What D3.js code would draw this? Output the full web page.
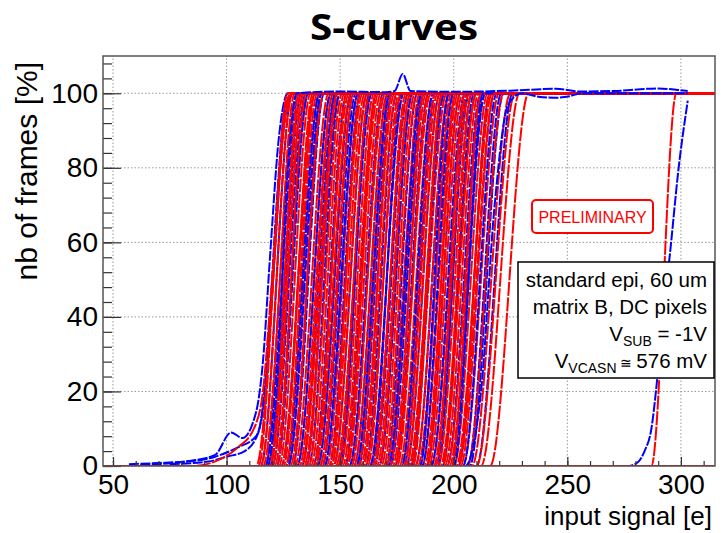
<!DOCTYPE html>
<html>
<head>
<meta charset="utf-8">
<script src="https://cdn.jsdelivr.net/npm/d3@7"></script>
<style>
  body { margin: 0; background: #fff; }
  svg { display: block; }
</style>
</head>
<body>
<div id="chart"></div>
<script>

// tick labels
const xTicks = [50, 100, 150, 200, 250, 300];
const yTicks = [0, 20, 40, 60, 80, 100];

// S-curves: [x where the curve leaves 0 %, x where it reaches 100 %]
const redCurves = [
  [113,128],[114,127],[116,131],[117,130],[118,133],[120,134],[121,136],[123,137],[124,139],[126,140],
  [127,141],[128,143],[130,145],[131,146],[133,147],[134,150],[135,149],[137,152],[138,154],[140,155],
  [141,156],[143,158],[144,158],[146,161],[147,162],[148,164],[150,165],[151,166],[153,168],[154,170],
  [156,171],[157,172],[159,174],[160,175],[161,177],[163,178],[164,180],[166,181],[167,182],[169,184],
  [170,186],[171,187],[173,188],[174,190],[176,191],[177,192],[179,194],[180,196],[181,197],[183,198],
  [184,200],[186,201],[187,202],[189,204],[190,206],[191,207],[193,208],[194,210],[196,211],[197,213],
  [198,214],[200,215],[201,217],[203,218],[204,220],[208,225],[212,229],[216,233],
  [115,129],[119,132],[122,135],[125,138],[129,142],[132,147],[136,151],[139,153],[142,156],[145,160],
  [149,163],[152,167],[155,169],[158,172],[162,176],[165,179],[168,183],[172,185],[175,189],[178,193],
  [182,195],[185,199],[188,203],[192,205],[195,208],[199,212],[202,216],[206,222],[119,134],[126,139],
  [133,149],[139,155],[146,159],[153,166],[160,173],[167,181],[174,187],[181,195],[188,201],[195,210],
  [202,218],[210,227],[287,298]
];
const blueCurves = [
  [115,129],[117,132],[119,133],[122,136],[124,139],[126,141],[129,143],[131,146],[133,148],[136,150],
  [138,153],[140,155],[142,157],[145,159],[147,162],[149,164],[152,166],[154,169],[156,171],[158,173],
  [161,175],[163,178],[165,180],[167,182],[170,184],[172,187],[174,189],[177,191],[179,194],[181,196],
  [183,198],[186,200],[188,203],[190,205],[192,207],[195,209],[197,212],[199,214],[202,216],[204,219],
  [207,222],[210,226],[120,135],[127,142],[135,148],[143,158],[150,163],[157,172],[164,177],[171,186],
  [178,192],[185,198],[193,206],[200,213],[206,221]
];

// a few curves with visible structure, as [input signal, %] points
const blueTailA = [[57,0.5],[70,0.8],[85,1.5],[95,3],[102,9],[107,7.5],[113,14.5],[116,28],[119,55],[123,88],[127,100],[303,100]];
const blueTailB = [[62,0.3],[80,1],[95,2.5],[105,5],[113,8],[117,20],[121,55],[125,90],[129,100],[303,100]];
const blueTailC = [[75,0.5],[92,1.2],[100,2.5],[108,4],[114,9],[118,30],[122,70],[126,97],[130,100],[303,100]];
const redTail = [[46,0],[85,0],[96,1.5],[105,5],[112,10],[116,20],[120,50],[125,90],[129,100],[315,100]];
const bluePlateau = [[57,0],[118,0],[122,20],[127,80],[131,100],[150,100.5],[170,100.3],[174,100.6],[177.5,105.2],
  [181,100.6],[200,100.4],[225,100.7],[245,101.2],[255,100.5],[270,100.6],[290,101.3],[300,100.8],[303,100.6]];
const blueDip = [[57,0],[205,0],[212,20],[218,70],[224,97],[230,100],[238,99],[245,98.8],[251,99.2],[256,100],[303,100]];
const blueFar = [[57,0],[277,0],[281,1],[284,4],[287,10],[289,20],[292,40],[295,56],[299,80],[303,98]];

const blueRange = [57, 303];
const redRange = [46, 315];
const blue = "#0000ff", red = "#ff0000";

const svg = d3.select("#chart")
  .append("svg")
  .attr("width", 725)
  .attr("height", 533);

const x = d3.scaleLinear().domain([45.6, 315]).range([103, 715]);
const y = d3.scaleLinear().domain([0, 110]).range([466, 56]);

// title
svg.append("text")
  .attr("x", 394)
  .attr("y", 40)
  .attr("text-anchor", "middle")
  .attr("textLength", 168)
  .attr("lengthAdjust", "spacingAndGlyphs")
  .style("font", "bold 36px 'Open Sans', sans-serif")
  .text("S-curves");

// grid
const grid = svg.append("g")
  .attr("stroke", "#999")
  .attr("stroke-width", 1)
  .attr("stroke-dasharray", "1.5,2");
grid.selectAll(".gx").data(xTicks).enter().append("line")
  .attr("x1", d => x(d)).attr("x2", d => x(d))
  .attr("y1", y(0)).attr("y2", y(110));
grid.selectAll(".gy").data(yTicks).enter().append("line")
  .attr("x1", x(45.6)).attr("x2", x(315))
  .attr("y1", d => y(d)).attr("y2", d => y(d));

svg.append("clipPath").attr("id", "frame")
  .append("rect")
  .attr("x", 103).attr("y", 56)
  .attr("width", 612).attr("height", 410);

const plot = svg.append("g").attr("clip-path", "url(#frame)");

const line = d3.line()
  .x(d => x(d[0]))
  .y(d => y(d[1]))
  .curve(d3.curveMonotoneX);

function sCurve(c, range) {
  return [[range[0], 0], [c[0], 0], [c[1], 100], [range[1], 100]];
}

// half of the blue pixels lie under the red ones, the rest are mixed in between
var curves = [];
[blueTailA, blueTailB, blueTailC].forEach(p => curves.push({color: blue, pts: p}));
blueCurves.forEach(function(c, i) {
  if (i % 2 == 0) curves.push({color: blue, pts: sCurve(c, blueRange)});
});
curves.push({color: red, pts: redTail});
var bi = 1;
redCurves.forEach(function(c, i) {
  curves.push({color: red, pts: sCurve(c, redRange)});
  if (i % 4 == 3 && blueCurves[bi]) {
    curves.push({color: blue, pts: sCurve(blueCurves[bi], blueRange)});
    bi += 2;
  }
});
[bluePlateau, blueDip, blueFar].forEach(p => curves.push({color: blue, pts: p}));

plot.selectAll(".curve").data(curves).enter().append("path")
  .attr("fill", "none")
  .attr("stroke", d => d.color)
  .attr("stroke-width", 2)
  .attr("stroke-dasharray", d => d.color == red ? "14,1.5" : "10,1.5")
  .attr("d", d => line(d.pts));

// bottom red line sits on the frame
plot.append("path")
  .attr("fill", "none")
  .attr("stroke", red)
  .attr("stroke-width", 2)
  .attr("d", line([[redRange[0], 0], [redRange[1], 0]]));

// axes
svg.append("g")
  .attr("transform", "translate(0,466)")
  .call(d3.axisBottom(x).tickValues(xTicks).tickSize(-9).tickPadding(8));
svg.append("g")
  .attr("transform", "translate(0,466)")
  .call(d3.axisBottom(x).tickValues(d3.range(50, 316, 10)).tickSize(-5).tickFormat(""));

svg.append("g")
  .attr("transform", "translate(103,0)")
  .call(d3.axisLeft(y).tickValues(yTicks).tickSize(-18).tickPadding(5));
svg.append("g")
  .attr("transform", "translate(103,0)")
  .call(d3.axisLeft(y).tickValues(d3.range(0, 109, 4)).tickSize(-9).tickFormat(""));

svg.selectAll(".domain").remove();
svg.selectAll(".tick line").attr("stroke", "#333").attr("stroke-width", 1.2);
svg.selectAll(".tick text")
  .attr("fill", "#000")
  .style("font", "28px 'Liberation Sans', Arial, sans-serif");

// frame
svg.append("rect")
  .attr("x", 103).attr("y", 56)
  .attr("width", 612).attr("height", 410)
  .attr("fill", "none")
  .attr("stroke", "#555")
  .attr("stroke-width", 1.5);

// axis titles
svg.append("text")
  .attr("transform", "translate(37,62) rotate(-90)")
  .attr("text-anchor", "end")
  .style("font", "30px 'Liberation Sans', Arial, sans-serif")
  .text("nb of frames [%]");

svg.append("text")
  .attr("x", 712)
  .attr("y", 525)
  .attr("text-anchor", "end")
  .style("font", "26px 'Liberation Sans', Arial, sans-serif")
  .text("input signal [e]");

// PRELIMINARY stamp
svg.append("rect")
  .attr("x", 532).attr("y", 200)
  .attr("width", 121).attr("height", 33)
  .attr("rx", 4)
  .attr("fill", "#fff")
  .attr("stroke", red)
  .attr("stroke-width", 2);
svg.append("text")
  .attr("x", 592.5).attr("y", 222.5)
  .attr("text-anchor", "middle")
  .attr("fill", red)
  .style("font", "16px 'Liberation Sans', Arial, sans-serif")
  .text("PRELIMINARY");

// info box
svg.append("rect")
  .attr("x", 518).attr("y", 262)
  .attr("width", 196).attr("height", 116)
  .attr("fill", "#fff")
  .attr("stroke", "#000")
  .attr("stroke-width", 1.5);

const info = svg.append("g")
  .attr("text-anchor", "end")
  .style("font", "20.5px 'Liberation Sans', Arial, sans-serif");
info.append("text").attr("x", 707).attr("y", 287).text("standard epi, 60 um");
info.append("text").attr("x", 707).attr("y", 314).text("matrix B, DC pixels");
var l3 = info.append("text").attr("x", 707).attr("y", 341);
l3.append("tspan").text("V");
l3.append("tspan").attr("dy", 5).style("font-size", "14px").text("SUB");
l3.append("tspan").attr("dy", -5).text(" = -1V");
var l4 = info.append("text").attr("x", 707).attr("y", 368);
l4.append("tspan").text("V");
l4.append("tspan").attr("dy", 5).style("font-size", "14px").text("VCASN ");
l4.append("tspan").attr("dy", -5).style("font-size", "14px").text(" \u2245 ");
l4.append("tspan").text("576 mV");

</script>
</body>
</html>
